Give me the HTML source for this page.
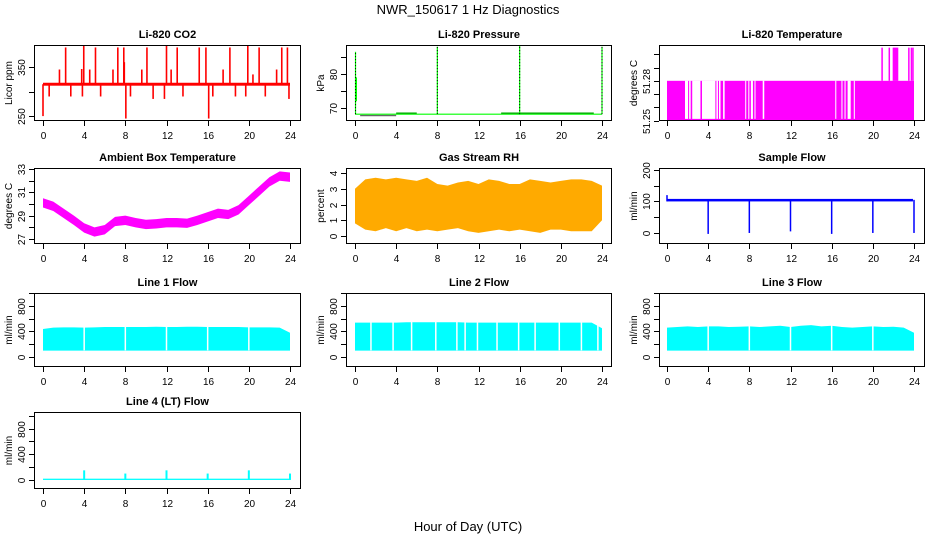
<!DOCTYPE html>
<html><head><meta charset="utf-8">
<style>
html,body{margin:0;padding:0;background:#fff;}
svg{display:block;font-family:"Liberation Sans",sans-serif;}
</style></head>
<body>
<svg id="chart" width="936" height="540" viewBox="0 0 936 540" xmlns="http://www.w3.org/2000/svg">
<text x="468" y="14" text-anchor="middle" font-size="13">NWR_150617  1 Hz Diagnostics</text>
<text x="468" y="531" text-anchor="middle" font-size="13">Hour of Day (UTC)</text>
</svg>
<script>
// ---- data ----
const hourTicks = [0,4,8,12,16,20,24];
const hours = [0,1,2,3,4,5,6,7,8,9,10,11,12,13,14,15,16,17,18,19,20,21,22,23,24];

const co2Base = [312, 318];
const co2SpikeHours = [2.2,3.96,5.1,7.27,7.85,10.1,12.0,13.04,15.18,15.83,18.16,19.9,21.0,23.2,23.75,1.6,3.76,4.54,6.8,9.6,12.45,17.5,20.4,22.7,7.9,0,0.6,2.7,3.83,5.6,8.05,8.5,10.7,11.8,13.6,16.1,16.5,18.7,19.7,21.6,23.9];
const co2SpikeValues = [390,395,390,390,390,390,395,390,390,390,390,395,390,390,390,345,346,345,345,345,345,345,335,345,360,250,290,290,290,290,245,290,285,285,290,245,290,290,290,290,285];

const presBase = 68.2;
const presSpikeHours = [0.05,8,16,24];
const presSpikeValues = [86.5,88,89,88];

const tempHigh = 51.28, tempLow = 51.2505;
const tempGapStart = [1.75,2.15,2.45,3.4,4.8,5.05,5.45,7.6,7.9,8.15,8.5,9.3,16.35,16.95,17.25,17.55,18.15];
const tempGapEnd   = [2.05,2.3,3.25,4.7,4.95,5.2,5.6,7.7,8.0,8.35,8.6,9.45,16.45,17.05,17.35,17.85,18.25];
const tempSpikeHours = [20.9,21.6,22.0,22.1,22.2,22.3,22.4,23.5,23.75,23.9];
const tempSpikeValues = [51.305,51.305,51.305,51.305,51.305,51.305,51.305,51.305,51.305,51.305];

const ambCenter = [30.1,29.8,29.2,28.6,27.95,27.6,27.8,28.5,28.6,28.4,28.25,28.3,28.4,28.4,28.35,28.6,28.9,29.2,29.1,29.5,30.3,31.1,31.9,32.4,32.3];
const ambHalf = 0.4;

const rhLow  = [0.8,0.4,0.3,0.5,0.3,0.5,0.3,0.4,0.3,0.4,0.5,0.3,0.2,0.3,0.4,0.3,0.4,0.3,0.2,0.4,0.4,0.3,0.3,0.3,1.0];
const rhHigh = [3.0,3.6,3.7,3.6,3.7,3.6,3.5,3.7,3.3,3.2,3.4,3.5,3.3,3.6,3.5,3.3,3.3,3.6,3.5,3.4,3.5,3.6,3.6,3.5,3.2];

const sampleBand = [100,108];
const sampleDipHours = [4,8,12,16,20,24];
const sampleDipValues = [-3,0,5,-3,0,0];

const line1Low = 100;
const line1High = [440,460,465,465,460,465,470,470,470,470,470,475,470,470,475,475,470,470,470,470,465,465,465,460,380];
const line1Gaps = [4,8,12,16,20];
const line2Low = 100;
const line2High = [540,540,540,540,540,545,545,545,545,545,545,540,540,540,540,540,540,540,540,540,540,540,540,540,450];
const line2Gaps = [1.55,3.7,5.5,7.85,9.9,10.7,11.9,13.8,15.9,17.5,19.85,22,23.6];
const line3Low = 100;
const line3High = [460,470,480,470,480,480,470,475,480,470,480,490,470,490,500,480,490,470,460,470,480,470,475,460,380];
const line3Gaps = [4,8,12,16,20];
const line4Base = [0,20];
const line4SpikeHours = [4,8,12,16,20,24];
const line4SpikeValues = [150,100,150,100,150,100];

// ---- layout ----
const svg = document.getElementById('chart');
const NS = 'http://www.w3.org/2000/svg';
const cols = [{l:34,r:301,x0:43,x24:290},{l:346,r:612,x0:355,x24:602},{l:659,r:925,x0:667,x24:914}];
const rows = [{t:45,b:121},{t:168,b:244},{t:293,b:367},{t:412,b:489}];

function mk(tag, attrs, parent){
  const e = document.createElementNS(NS, tag);
  for (const k in attrs) e.setAttribute(k, attrs[k]);
  (parent||svg).appendChild(e);
  return e;
}
let clipId = 0;
function panel(ci, ri, ymin, ymax, ticks, labels, title, ylab, name){
  const c = cols[ci], r = rows[ri];
  const p = {l:c.l, r:c.r, x0:c.x0, x24:c.x24, t:r.t, b:r.b, ymin, ymax};
  p.sx = h => p.x0 + (p.x24 - p.x0) * h / 24;
  p.sy = v => p.b - (v - ymin) / (ymax - ymin) * (p.b - p.t);
  const g = mk('g', {});
  
  
  clipId++;
  const cp = mk('clipPath', {id:'cp'+clipId}, g);
  mk('rect', {x:p.l, y:p.t, width:p.r-p.l, height:p.b-p.t}, cp);
  p.data = mk('g', {'clip-path':'url(#cp'+clipId+')'}, g);
  
  
  const box = mk('rect', {x:p.l+0.5, y:p.t+0.5, width:p.r-p.l-1, height:p.b-p.t-1, fill:'none', stroke:'#000', 'stroke-width':1}, g);
  
  
  const tt = mk('text', {x:(p.l+p.r)/2, y:p.t-7, 'text-anchor':'middle', 'font-size':11, 'font-weight':'bold'}, g);
  tt.textContent = title;
  
  
  hourTicks.forEach(h => {
    const x = Math.round(p.sx(h)) + 0.5;
    const tk = mk('line', {x1:x, x2:x, y1:p.b, y2:p.b+5, stroke:'#000'}, g);
    
    
    const tl = mk('text', {x:x, y:p.b+18, 'text-anchor':'middle', 'font-size':10}, g);
    tl.textContent = h;
    
    
  });
  ticks.forEach((v, i) => {
    const y = Math.round(p.sy(v)) + 0.5;
    const tk = mk('line', {x1:p.l-5, x2:p.l, y1:y, y2:y, stroke:'#000'}, g);
    
    
    if (labels[i] !== '') {
      const tl = mk('text', {x:p.l-9, y:y, 'text-anchor':'middle', 'font-size':10, transform:'rotate(-90 '+(p.l-9)+' '+y+')'}, g);
      tl.textContent = labels[i];
      
      
    }
  });
  const yc = (p.t + p.b) / 2;
  const yl = mk('text', {x:p.l-22, y:yc, 'text-anchor':'middle', 'font-size':10, transform:'rotate(-90 '+(p.l-22)+' '+yc+')'}, g);
  yl.textContent = ylab;
  
  
  return p;
}
function vline(p, h, v1, v2, color, w, dash){
  const x = p.sx(h);
  const a = {x1:x, x2:x, y1:p.sy(v1), y2:p.sy(v2), stroke:color, 'stroke-width':w};
  if (dash) a['stroke-dasharray'] = dash;
  const e = mk('line', a, p.data);
  
  
  return e;
}
function bandPoly(p, lo, hi, fill){
  let pts = [];
  hours.forEach((h, i) => pts.push(p.sx(h)+','+p.sy(hi[i])));
  for (let i = hours.length-1; i >= 0; i--) pts.push(p.sx(hours[i])+','+p.sy(lo[i]));
  const e = mk('polygon', {points:pts.join(' '), fill:fill}, p.data);
  
  
  return e;
}
function hband(p, v1, v2, h1, h2, fill){
  const e = mk('rect', {x:p.sx(h1), y:p.sy(v2), width:p.sx(h2)-p.sx(h1), height:Math.max(1,p.sy(v1)-p.sy(v2)), fill:fill}, p.data);
  
  
  return e;
}

// CO2
const pCO2 = panel(0,0,240,395,[250,300,350],['250','','350'],'Li-820 CO2','Licor ppm','co2');
hband(pCO2, co2Base[0], co2Base[1], 0, 24, '#ff0000');
co2SpikeHours.forEach((h,i) => vline(pCO2, h, 315, co2SpikeValues[i], '#ff0000', 1.6));

// Pressure
const pP = panel(1,0,66.2,88.5,[70,75,80,85],['70','','80',''],'Li-820 Pressure','kPa','pressure');
const pl = mk('line', {x1:pP.sx(0), x2:pP.sx(24), y1:pP.sy(presBase), y2:pP.sy(presBase), stroke:'#00ff00', 'stroke-width':1.2}, pP.data);


hband(pP, 67.6, 68.0, 0.5, 4, '#000000').setAttribute('opacity','0.6');
hband(pP, 68.3, 68.7, 4, 6, '#00aa00');
hband(pP, 68.3, 68.7, 14.2, 23.2, '#00aa00');
vline(pP, 0.12, 72, 79, '#00ff00', 1.5);
presSpikeHours.forEach((h,i) => { vline(pP, h, presBase, presSpikeValues[i], '#00ff00', 1.2); vline(pP, h, presBase, presSpikeValues[i], '#000', 1, '1,2'); });

// Temperature
const pT = panel(2,0,51.2497,51.307,[51.25,51.26,51.27,51.28,51.29,51.30],['51.25','','','51.28','',''],'Li-820 Temperature','degrees C','temperature');
hband(pT, tempLow, tempHigh, 0, 24, '#ff00ff');
tempGapStart.forEach((s,i) => hband(pT, tempLow+0.0007, tempHigh+0.0001, s, tempGapEnd[i], '#ffffff'));
hband(pT, tempLow, tempLow+0.0008, 0, 24, '#ff00ff');
tempSpikeHours.forEach((h,i) => vline(pT, h, tempHigh, tempSpikeValues[i], '#ff00ff', 1.5));

// Ambient
const pA = panel(0,1,26.57,33.09,[27,28,29,30,31,32,33],['27','','29','','31','','33'],'Ambient Box Temperature','degrees C','ambient');
bandPoly(pA, ambCenter.map(v=>v-ambHalf), ambCenter.map(v=>v+ambHalf), '#ff00ff');

// RH
const pR = panel(1,1,-0.51,4.32,[0,1,2,3,4],['0','1','2','3','4'],'Gas Stream RH','percent','rh');
bandPoly(pR, rhLow, rhHigh, '#ffaa00');

// Sample flow
const pS = panel(2,1,-35,206,[0,50,100,150,200],['0','','100','','200'],'Sample Flow','ml/min','sample-flow');
hband(pS, sampleBand[0], sampleBand[1], 0, 23.9, '#0000ff');
sampleDipHours.forEach((h,i) => vline(pS, h, 105, sampleDipValues[i], '#0000ff', 1.5));
vline(pS, 0, 100, 120, '#0000ff', 1.5);

// Line flows
const flowTicks = [0,200,400,600,800,1000], flowLabels = ['0','','400','','800',''];
function flowPanel(ci, ri, ymin, ymax, title, name, lo, hi, gaps){
  const p = panel(ci, ri, ymin, ymax, flowTicks, flowLabels, title, 'ml/min', name);
  bandPoly(p, hours.map(()=>lo), hi, '#00ffff');
  gaps.forEach(h => vline(p, h, lo+5, 1000, '#ffffff', 1.5));
  return p;
}
flowPanel(0,2,-157,1004,'Line 1 Flow','line1-flow',line1Low,line1High,line1Gaps);
flowPanel(1,2,-157,1004,'Line 2 Flow','line2-flow',line2Low,line2High,line2Gaps);
flowPanel(2,2,-157,1004,'Line 3 Flow','line3-flow',line3Low,line3High,line3Gaps);
const p4 = panel(0,3,-141,1060,flowTicks,flowLabels,'Line 4 (LT) Flow','ml/min','line4-flow');
hband(p4, line4Base[0], line4Base[1], 0, 24, '#00ffff');
line4SpikeHours.forEach((h,i) => vline(p4, h, 0, line4SpikeValues[i], '#00ffff', 2));
</script>
</body></html>
